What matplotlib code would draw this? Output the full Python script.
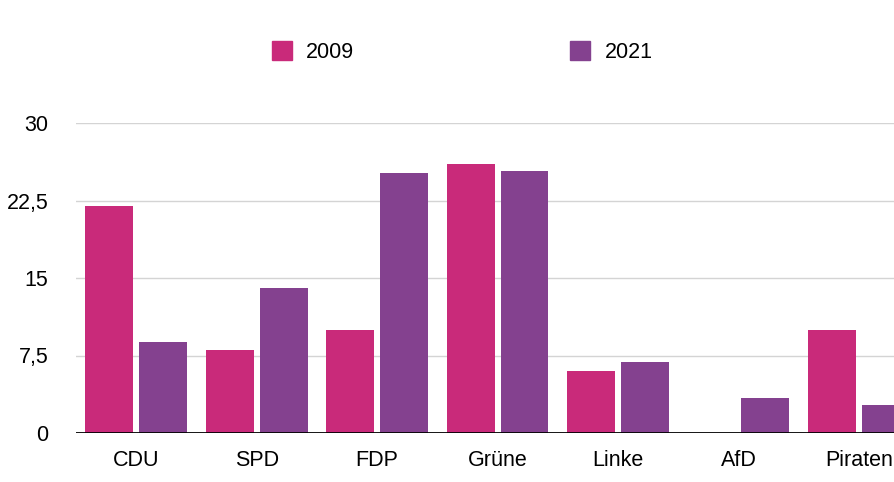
import matplotlib.pyplot as plt
import numpy as np
from matplotlib.patches import Patch

parties = ["CDU", "SPD", "FDP", "Grüne", "Linke", "AfD", "Piraten"]
votes_2009 = [22.0, 8.0, 10.0, 26.0, 6.0, 0.0, 10.0]
votes_2021 = [8.8, 14.0, 25.2, 25.4, 6.9, 3.4, 2.7]
yticks = [0, 7.5, 15, 22.5, 30]
ytick_labels = ["0", "7,5", "15", "22,5", "30"]

pink = "#C92A7A"
purple = "#84418F"

plt.rcParams["font.family"] = ["Liberation Sans", "DejaVu Sans"]

fig = plt.figure(figsize=(8.95, 4.82), dpi=100)
ax = fig.add_axes([76 / 895, 1 - 433 / 482, 1 - 76 / 895, (433 - 123) / 482])

x = np.arange(len(parties))
w = 0.398
off = 0.224
ax.bar(x - off, votes_2009, w, color=pink, zorder=3)
ax.bar(x + off, votes_2021, w, color=purple, zorder=3)

ax.set_xlim(-0.5, 6.3)
ax.set_ylim(0, 30)
ax.set_yticks(yticks)
ax.set_yticklabels(ytick_labels)
ax.set_xticks(x)
ax.set_xticklabels(parties)
ax.tick_params(axis="both", length=0, labelsize=15.5)
ax.tick_params(axis="y", pad=20)
ax.tick_params(axis="x", pad=12)
ax.grid(axis="y", color="#d4d4d4", lw=1, zorder=0)
for s in ax.spines.values():
    s.set_visible(False)
ax.axhline(0, color="black", lw=2, zorder=4)

handles = [Patch(color=pink, label="2009"), Patch(color=purple, label="2021")]
fig.legend(handles=handles, loc="center", bbox_to_anchor=(462 / 895, 1 - 52 / 482),
           ncol=2, frameon=False, fontsize=15.5, handlelength=0.93, handleheight=0.93,
           handletextpad=0.66, columnspacing=10.05)

fig.savefig("out.png", dpi=100)
